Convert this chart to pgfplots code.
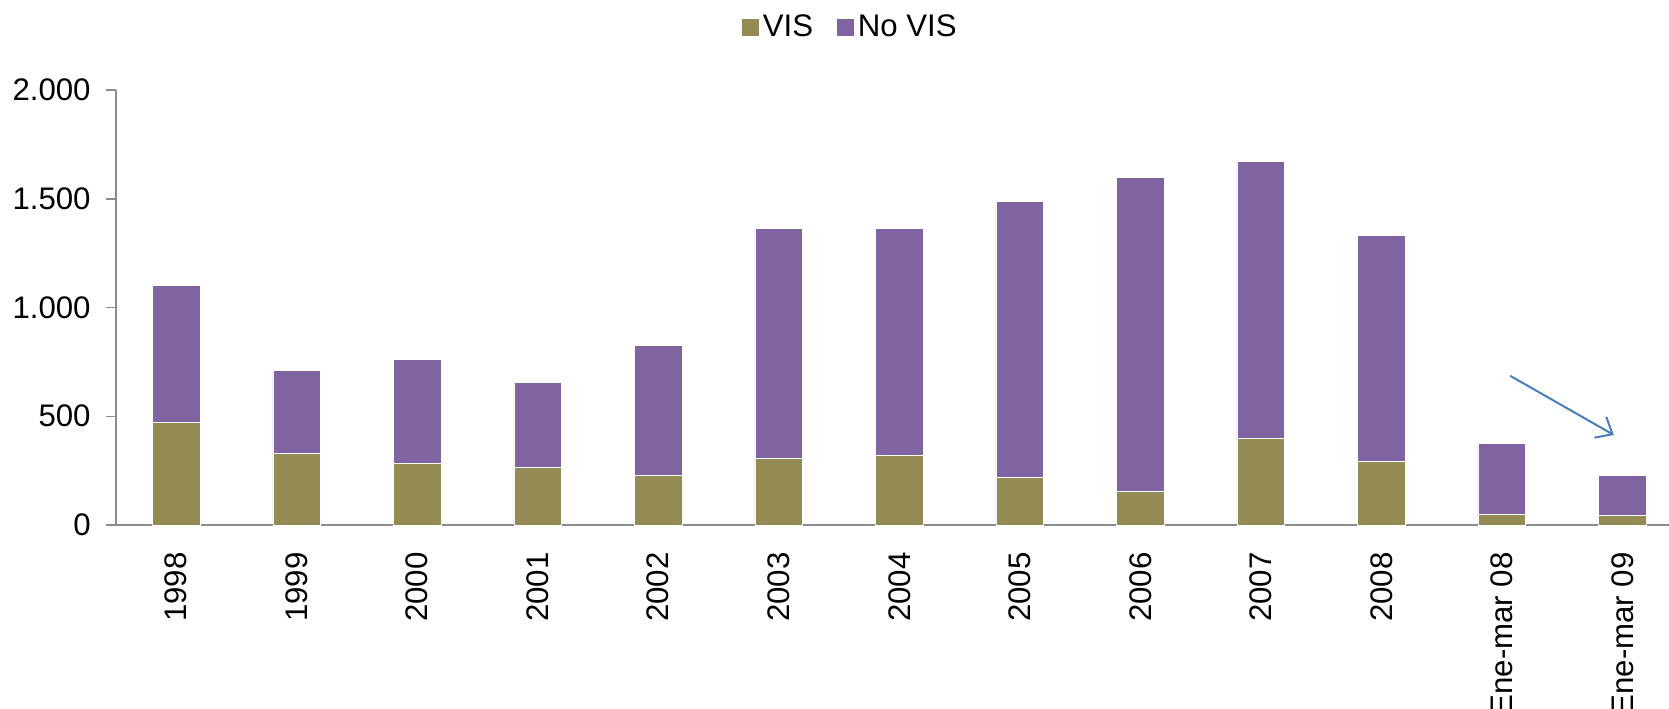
\documentclass[border=0pt]{standalone}
\usepackage{pgfplots}
\pgfplotsset{compat=1.18}
\usepackage{fontspec}
\setmainfont{Liberation Sans}
\usetikzlibrary{arrows.meta}
\definecolor{visc}{HTML}{948A54}
\definecolor{novisc}{HTML}{8064A2}
\definecolor{axc}{HTML}{8C8C8C}
\definecolor{arrc}{HTML}{4A7EBB}
\begin{document}
\begin{tikzpicture}
\useasboundingbox (0,0) rectangle (834.5pt,354pt);
\begin{axis}[
  at={(58pt,91.5pt)}, anchor=south west,
  scale only axis, width=783.25pt, height=217.5pt,
  xmin=-0.5, xmax=12.5, ymin=0, ymax=2000,
  ybar stacked, bar width=23.85pt,
  axis x line=bottom, axis y line=left,
  axis line style={-, draw=axc, line width=0.75pt},
  xtick={0,...,12},
  xticklabels={1998,1999,2000,2001,2002,2003,2004,2005,2006,2007,2008,Ene-mar 08,Ene-mar 09},
  xtick style={draw=none},
  ytick={0,500,1000,1500,2000},
  tick align=outside, major tick length=5pt,
  ytick style={draw=axc, line width=0.75pt},
  /pgf/number format/.cd, 1000 sep={.}, assume math mode=true, /pgfplots/.cd,
  tick label style={font=\fontsize{15.6}{18}\selectfont},
  yticklabel style={anchor=east, inner sep=0pt},
  yticklabel shift=7.5pt,
  xticklabel style={rotate=90, anchor=east, inner sep=0pt},
  xticklabel shift=8.5pt,
  legend style={draw=none, fill=none, at={(0.4695,1.145)}, anchor=center,
    legend columns=-1, font=\fontsize{15.6}{18}\selectfont,
    /tikz/every even column/.append style={column sep=9.5pt},
    nodes={inner sep=2.3pt}},
  clip=false,
]
\addplot[fill=visc, draw=white, line width=0.3pt,
  legend image code/.code={\fill[visc] (0pt,-4pt) rectangle (8pt,4pt);}]
  coordinates {(0,473) (1,330) (2,285) (3,266) (4,228) (5,305) (6,320) (7,220) (8,156) (9,399) (10,294) (11,47) (12,45)};
\addlegendentry{VIS}
\addplot[fill=novisc, draw=white, line width=0.3pt,
  legend image code/.code={\fill[novisc] (0pt,-4pt) rectangle (8pt,4pt);}]
  coordinates {(0,627) (1,380) (2,478) (3,389) (4,599) (5,1060) (6,1042) (7,1267) (8,1444) (9,1271) (10,1039) (11,330) (12,182)};
\addlegendentry{No VIS}
\draw[arrc, line width=1pt, -{Straight Barb[length=7pt,width=12pt]}] (axis cs:11.07,686) -- (axis cs:11.93,414);
\end{axis}
\end{tikzpicture}
\end{document}
